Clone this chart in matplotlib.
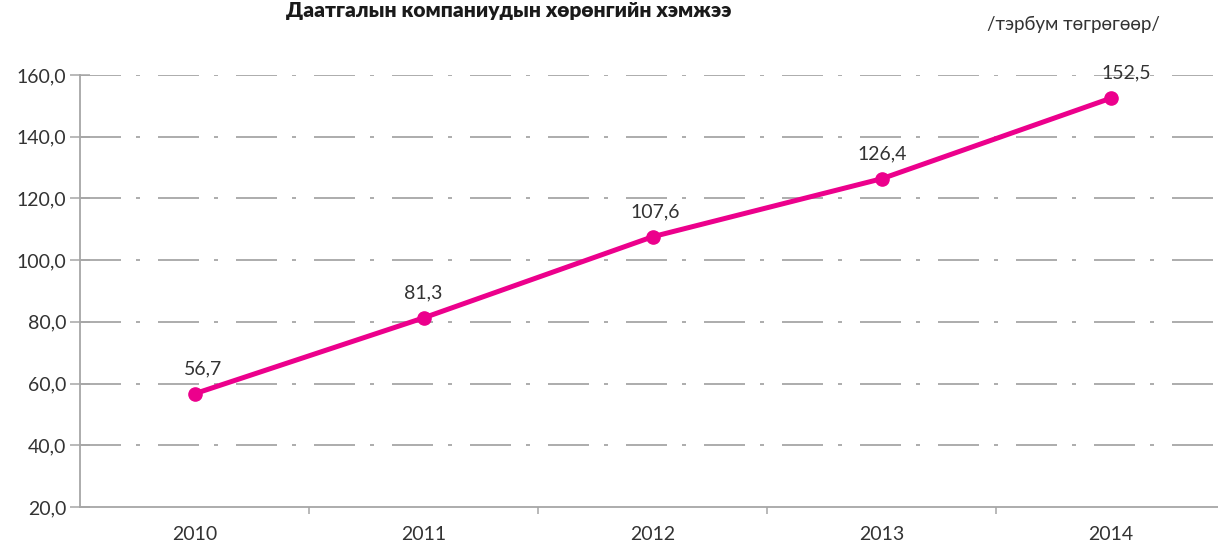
import matplotlib
matplotlib.use("Agg")
import matplotlib.pyplot as plt
from matplotlib.ticker import FixedLocator

plt.rcParams['font.family'] = ['Lato', 'DejaVu Sans']

years = ["2010", "2011", "2012", "2013", "2014"]
values = [56.7, 81.3, 107.6, 126.4, 152.5]
yticks = [20, 40, 60, 80, 100, 120, 140, 160]
title = "Даатгалын компаниудын хөрөнгийн хэмжээ"
unit = "/тэрбум төгрөгөөр/"

W, H = 1218, 543
fig = plt.figure(figsize=(W / 100, H / 100), dpi=100)
ax = fig.add_axes([80 / W, 36 / H, (W - 80) / W, (507 - 75) / H])

line_color = "#EC008C"
grid_color = "#A6A6A6"
text_color = "#333333"

x = list(range(len(years)))
ax.set_xlim(-0.5, 4.467)
ax.set_ylim(20, 160)

for v in yticks[1:]:
    ax.axhline(v, color=grid_color, lw=1.3,
               dashes=(41 * 0.72 / 1.3, 15 * 0.72 / 1.3, 4 * 0.72 / 1.3, 18 * 0.72 / 1.3),
               zorder=1)

ax.plot(x, values, color=line_color, lw=3.6, marker='o', markersize=9.5, zorder=3,
        solid_capstyle='round')

label_dx = [6, 0, 2, 0, 11]
for xi, v, dx in zip(x, values, label_dx):
    ax.annotate(f"{v:.1f}".replace('.', ','), (xi, v), xytext=(dx, 18),
                textcoords='offset points', ha='center', va='center',
                fontsize=14, color=text_color, zorder=4)

for s in ['top', 'right']:
    ax.spines[s].set_visible(False)
for s in ['left', 'bottom']:
    ax.spines[s].set_color(grid_color)
    ax.spines[s].set_linewidth(1.3)

ax.set_yticks(yticks)
ax.set_yticklabels([f"{v:.1f}".replace('.', ',') for v in yticks])
ax.tick_params(axis='y', direction='inout', length=14, width=1.1, color=grid_color,
               labelsize=14, labelcolor=text_color, pad=3)

ax.set_xticks(x)
ax.set_xticklabels(years)
ax.tick_params(axis='x', which='major', length=0, labelsize=14, labelcolor=text_color, pad=14)
ax.xaxis.set_minor_locator(FixedLocator([0.5, 1.5, 2.5, 3.5]))
ax.tick_params(axis='x', which='minor', direction='out', length=5, width=1.1, color=grid_color)

fig.text(509 / W, 1 - 1 / H, title, ha='center', va='top', fontsize=15,
         fontweight='heavy', color='#1a1a1a')
fig.text(1160 / W, 1 - 30 / H, unit, ha='right', va='baseline', fontsize=13.5,
         color=text_color)

fig.savefig("out.png", dpi=100)
